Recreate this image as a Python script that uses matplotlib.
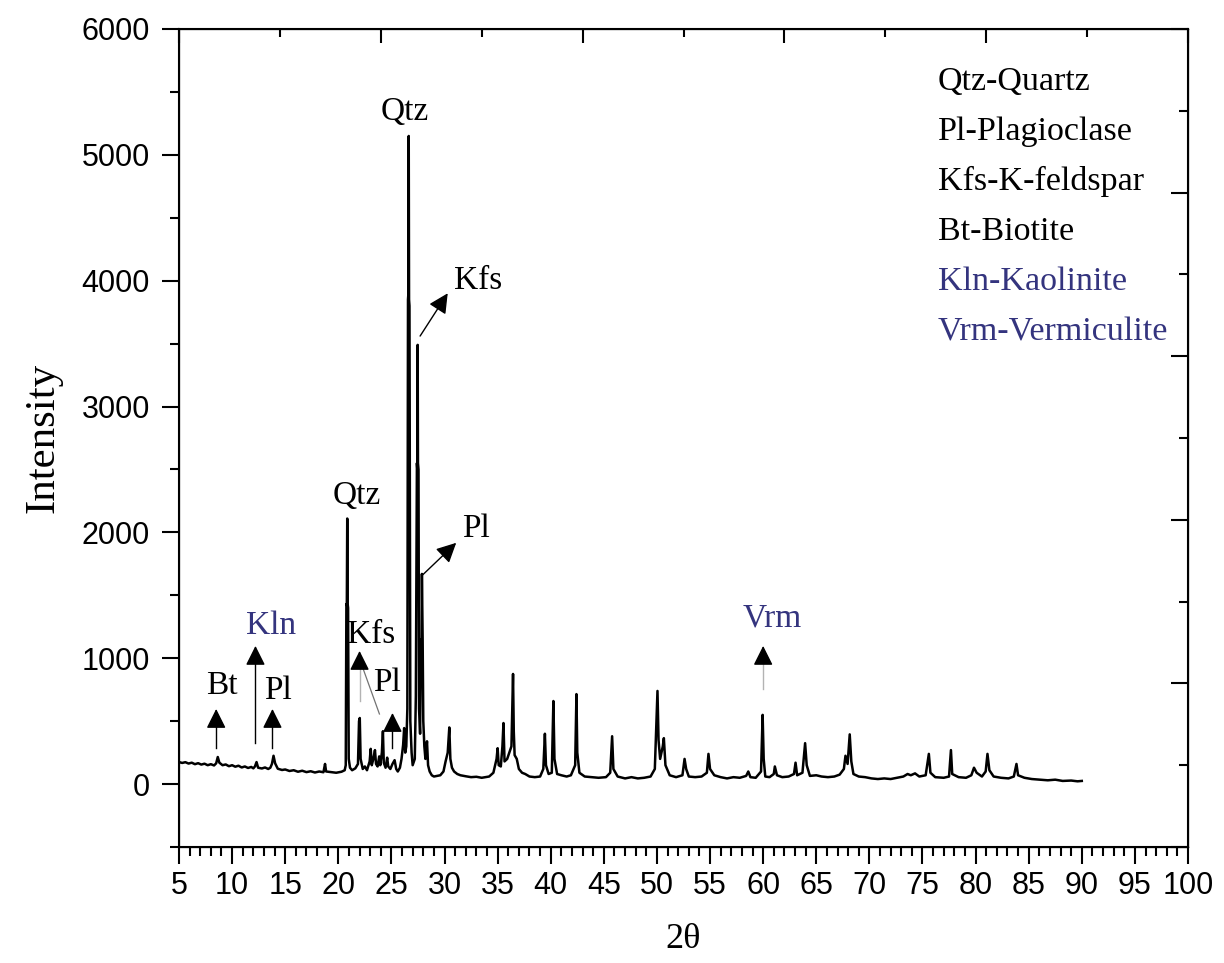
import matplotlib.pyplot as plt
from matplotlib.ticker import MultipleLocator

# XRD trace (2theta in degrees, counts)
two_theta = [
    5.0, 5.3, 5.6, 5.9, 6.2, 6.5, 6.8, 7.1, 7.4, 7.7, 8.0, 8.3, 8.5, 8.65, 8.8,
    9.1, 9.4, 9.7, 10.0, 10.3, 10.6, 10.9, 11.2, 11.5, 11.8, 12.0, 12.15, 12.3,
    12.45, 12.8, 13.1, 13.4, 13.6, 13.75, 13.9, 14.05, 14.3, 14.7, 15.0, 15.4,
    15.8, 16.2, 16.6, 17.0, 17.4, 17.8, 18.2, 18.6, 18.75, 18.85, 19.3, 19.8,
    20.3, 20.6,
    20.7, 20.76, 20.8, 20.84, 20.88, 20.92, 20.98, 21.1, 21.3, 21.6, 21.85, 21.95,
    22.02, 22.1, 22.3, 22.5, 22.7, 22.95, 23.05, 23.15, 23.3, 23.45, 23.55, 23.7,
    23.85, 23.95, 24.1, 24.2, 24.28, 24.45, 24.6, 24.7, 24.9, 25.1, 25.3, 25.45,
    25.6, 25.8, 25.95, 26.1, 26.2, 26.3, 26.4,
    26.5, 26.56, 26.6, 26.63, 26.66, 26.7, 26.78, 26.9, 27.0, 27.2, 27.3, 27.4,
    27.44, 27.47, 27.5, 27.55, 27.6, 27.7, 27.78, 27.84, 27.87, 27.94, 28.0,
    28.1, 28.2, 28.35, 28.45, 28.6, 28.8, 29.0, 29.3, 29.6, 29.9, 30.1, 30.3,
    30.45, 30.55, 30.7, 30.9, 31.2, 31.5, 32.0, 32.5, 33.0, 33.5, 34.2, 34.6,
    34.9, 35.0, 35.1, 35.3, 35.45, 35.55, 35.65, 35.9, 36.3, 36.45, 36.52, 36.6,
    36.8, 37.0, 37.3, 37.6, 38.0, 38.5, 39.0, 39.3, 39.45, 39.55, 39.8, 40.1,
    40.25, 40.35, 40.6, 41.0, 41.5, 41.9, 42.3, 42.42, 42.5, 42.7, 43.2, 43.8,
    44.5, 45.2, 45.6, 45.78, 45.9, 46.3, 47.0, 47.6, 48.2, 48.8, 49.4, 49.8,
    50.05, 50.15, 50.3, 50.55, 50.65, 50.8, 51.2, 51.8, 52.4, 52.6, 52.75, 53.0,
    53.6, 54.2, 54.7, 54.85, 55.0, 55.4, 56.0, 56.6, 57.2, 57.8, 58.4, 58.6,
    58.8, 59.3, 59.8, 59.95, 60.05, 60.2, 60.6, 61.0, 61.1, 61.3, 61.8, 62.4,
    62.9, 63.05, 63.2, 63.7, 63.95, 64.1, 64.4, 65.0, 65.5, 66.1, 66.7, 67.2,
    67.6, 67.75, 67.95, 68.15, 68.3, 68.5, 69.0, 69.6, 70.2, 70.8, 71.4, 72.0,
    72.6, 73.2, 73.6, 73.9, 74.3, 74.7, 75.3, 75.6, 75.75, 76.2, 77.0, 77.5,
    77.68, 77.8, 78.4, 79.1, 79.6, 79.85, 80.1, 80.6, 80.95, 81.12, 81.3, 81.7,
    82.4, 83.1, 83.6, 83.85, 84.0, 84.6, 85.3, 86.0, 86.8, 87.5, 88.2, 89.0,
    89.6, 90.0,
]
intensity = [
    175, 168, 174, 163, 170, 158, 166, 155, 162, 150, 158, 148, 165, 215, 170,
    150, 156, 142, 150, 138, 146, 132, 140, 128, 136, 125, 140, 175,
    130, 124, 132, 120, 130, 160, 225, 165, 122, 112, 116, 104,
    110, 98, 106, 95, 102, 92, 100, 94, 160, 100, 95, 90,
    98, 110,
    150, 1430, 1420, 2110, 1430, 1400, 200, 130, 110, 125, 160, 500,
    525, 200, 120, 140, 110, 180, 280, 150, 200, 270, 160, 140,
    220, 150, 250, 420, 170, 130, 210, 140, 120, 160, 190, 120,
    100, 130, 200, 310, 445, 250, 300,
    600, 3850, 3900, 5150, 3850, 3800, 500, 250, 150, 200, 700, 2550,
    2500, 3490, 2550, 2500, 600, 400, 1150, 1150, 1670, 1150, 500,
    300, 200, 340, 150, 100, 70, 60, 65, 70, 100, 180, 250,
    450, 200, 130, 100, 80, 70, 62, 55, 58, 50, 60, 90,
    200, 285, 150, 140, 300, 485, 180, 200, 300, 875, 420, 230,
    200, 120, 90, 80, 60, 55, 60, 120, 400, 150, 80, 90,
    660, 200, 80, 70, 60, 70, 150, 715, 250, 90, 60, 55,
    50, 55, 90, 380, 120, 60, 45, 55, 45, 50, 60, 120,
    740, 350, 200, 300, 365, 150, 70, 55, 70, 200, 120, 60,
    55, 60, 90, 240, 120, 70, 55, 45, 55, 50, 65, 100,
    55, 50, 100, 550, 200, 60, 55, 80, 140, 70, 55, 60,
    80, 170, 70, 90, 325, 150, 65, 70, 60, 55, 60, 75,
    120, 225, 160, 395, 180, 80, 60, 55, 45, 40, 45, 40,
    50, 60, 80, 70, 85, 60, 70, 240, 90, 55, 50, 60,
    270, 80, 55, 50, 70, 130, 90, 60, 100, 240, 110, 60,
    50, 45, 60, 160, 70, 50, 40, 35, 30, 35, 25, 28,
    22, 25,
]

# phase labels on the peaks: text, 2theta, intensity, colour
peak_text = ['Bt', 'Kln', 'Pl', 'Qtz', 'Kfs', 'Pl', 'Qtz', 'Kfs', 'Pl', 'Vrm']
peak_x = [9.0, 13.7, 14.3, 21.7, 23.1, 24.6, 26.3, 33.2, 33.0, 60.9]
peak_y = [780, 1260, 740, 2290, 1190, 805, 5340, 4000, 2030, 1320]
peak_col = ['k', '#34347e', 'k', 'k', 'k', 'k', 'k', 'k', 'k', '#34347e']

# vertical arrows: 2theta, tail, head, shaft colour
up_x = [8.5, 12.2, 13.8, 22.0, 25.1, 60.0]
up_y0 = [286, 326, 286, 660, 286, 756]
up_y1 = [597, 1098, 597, 1058, 565, 1098]
up_shaft = ['k', 'k', 'k', '0.7', 'k', '0.7']

legend_text = ['Qtz-Quartz', 'Pl-Plagioclase', 'Kfs-K-feldspar', 'Bt-Biotite',
               'Kln-Kaolinite', 'Vrm-Vermiculite']
legend_col = ['k', 'k', 'k', 'k', '#34347e', '#34347e']

plt.rcParams['font.family'] = ['Liberation Sans', 'DejaVu Sans']
serif = ['Liberation Serif', 'DejaVu Serif']

fig = plt.figure(figsize=(12.24, 9.63), dpi=100)
ax = fig.add_axes([179 / 1224, 1 - 847 / 963, 1009 / 1224, 818 / 963])

ax.plot(two_theta, intensity, color='k', lw=1.8)
ax.set_xlim(5, 100)
ax.set_ylim(-500, 6000)

ax.xaxis.set_major_locator(MultipleLocator(5))
ax.xaxis.set_minor_locator(MultipleLocator(1))
ax.yaxis.set_major_locator(MultipleLocator(1000))
ax.yaxis.set_minor_locator(MultipleLocator(500))
ax.tick_params(which='both', direction='out', width=1.5, top=False, right=False)
ax.tick_params(which='major', length=12)
ax.tick_params(which='minor', length=6.5)
ax.tick_params(axis='x', labelsize=22, pad=5)
ax.tick_params(axis='y', labelsize=22, pad=9)
for s in ax.spines.values():
    s.set_linewidth(1.5)

# top and right frame ticks (different spacing, no labels)
axt = ax.twiny()
axt.set_xlim(0, 10)
axt.xaxis.set_major_locator(MultipleLocator(2))
axt.xaxis.set_minor_locator(MultipleLocator(1))
axt.tick_params(which='both', direction='in', width=1.5, labeltop=False)
axt.tick_params(which='major', length=10)
axt.tick_params(which='minor', length=6)
axr = ax.twinx()
axr.set_ylim(10, 0)
axr.yaxis.set_major_locator(MultipleLocator(2))
axr.yaxis.set_minor_locator(MultipleLocator(1))
axr.tick_params(which='both', direction='in', width=1.5, labelright=False)
axr.tick_params(which='major', length=12)
axr.tick_params(which='minor', length=6.5)

ax.set_ylabel('Intensity', family=serif, fontsize=31, labelpad=14)
ax.set_xlabel('2θ', family=serif, fontsize=26, labelpad=16)

for t, x, y, c in zip(peak_text, peak_x, peak_y, peak_col):
    ax.text(x, y, t, family=serif, fontsize=24, color=c, ha='center', va='center')

for x, y0, y1, c in zip(up_x, up_y0, up_y1, up_shaft):
    ax.plot([x, x], [y0, y1 - 100], color=c, lw=1)
    ax.annotate('', xy=(x, y1), xytext=(x, y1 - 130),
                arrowprops=dict(arrowstyle='-|>,head_length=0.6,head_width=0.3',
                                color='k', lw=1, shrinkA=0, shrinkB=0,
                                mutation_scale=20))

# slanted arrows to the big Kfs and Pl labels
ax.annotate('', xy=(30.3, 3900), xytext=(27.7, 3560),
            arrowprops=dict(arrowstyle='-|>,head_length=0.6,head_width=0.3',
                            color='k', lw=1, shrinkA=0, shrinkB=0, mutation_scale=20))
ax.annotate('', xy=(31.1, 1917), xytext=(27.95, 1663),
            arrowprops=dict(arrowstyle='-|>,head_length=0.6,head_width=0.3',
                            color='k', lw=1, shrinkA=0, shrinkB=0, mutation_scale=20))
ax.plot([22.17, 23.87], [955, 557], color='0.45', lw=0.9)

for i, (t, c) in enumerate(zip(legend_text, legend_col)):
    ax.text(0.752, 0.9355 - i * 0.0612, t, transform=ax.transAxes, family=serif,
            fontsize=24.5, color=c, ha='left', va='center')

fig.savefig('out.png', dpi=100)
